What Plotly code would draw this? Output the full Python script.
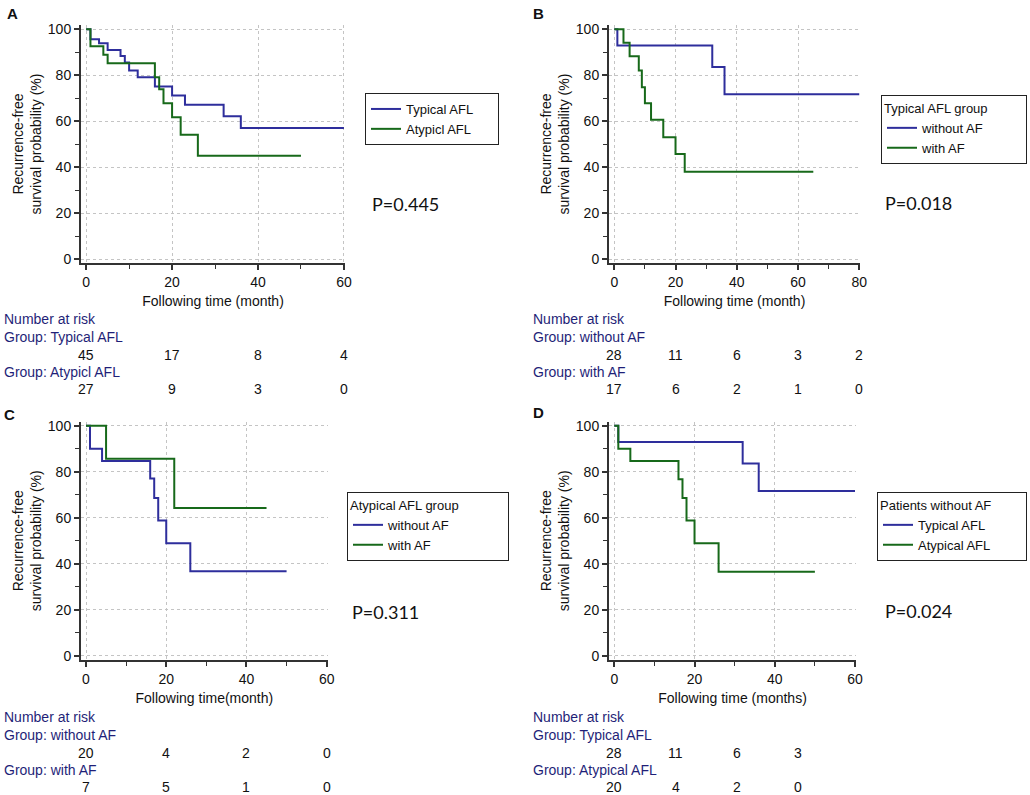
import plotly.graph_objects as go

W, H = 1030, 795

# ---------------- data ----------------
# Panel A
a_typ_t = [0, 1, 3, 5, 8, 9, 10, 12, 16, 20, 23, 32, 36, 60]
a_typ_s = [100, 95.6, 93.9, 91.0, 88.4, 85.5, 82.0, 79.1, 75.1, 71.2, 67.1, 62.2, 57.0, 57.0]
a_aty_t = [0, 1, 4, 5, 16, 17, 18, 20, 22, 26, 50]
a_aty_s = [100, 92.6, 88.9, 85.2, 79.1, 73.9, 67.8, 61.7, 54.1, 45.0, 45.0]
# Panel B
b_wo_t = [0, 1, 32, 36, 80]
b_wo_s = [100, 92.9, 83.6, 71.7, 71.7]
b_w_t = [0, 3, 5, 8, 9, 10, 12, 16, 20, 23, 65]
b_w_s = [100, 94.1, 88.2, 82.0, 74.8, 67.8, 60.6, 53.0, 45.7, 38.0, 38.0]
# Panel C
c_wo_t = [0, 1, 4, 16, 17, 18, 20, 26, 50]
c_wo_s = [100, 90.0, 84.7, 77.1, 68.6, 58.9, 49.0, 36.8, 36.8]
c_w_t = [0, 5, 22, 45]
c_w_s = [100, 85.7, 64.3, 64.3]
# Panel D
d_typ_t = [0, 1, 32, 36, 60]
d_typ_s = [100, 92.9, 83.6, 71.7, 71.7]
d_aty_t = [0, 1, 4, 16, 17, 18, 20, 26, 50]
d_aty_s = [100, 90.0, 84.7, 76.8, 68.6, 58.9, 49.0, 36.6, 36.6]

# Number at risk
a_risk_t = [0, 20, 40, 60]
a_risk_typ = [45, 17, 8, 4]
a_risk_aty = [27, 9, 3, 0]
b_risk_t = [0, 20, 40, 60, 80]
b_risk_wo = [28, 11, 6, 3, 2]
b_risk_w = [17, 6, 2, 1, 0]
c_risk_t = [0, 20, 40, 60]
c_risk_wo = [20, 4, 2, 0]
c_risk_w = [7, 5, 1, 0]
d_risk_t = [0, 20, 40, 60]
d_risk_typ = [28, 11, 6, 3]
d_risk_aty = [20, 4, 2, 0]

p_values = ["P=0.445", "P=0.018", "P=0.311", "P=0.024"]

BLUE = "#2e2e9c"
GREEN = "#17691a"
NAVY = "#1f1f78"
FONT = "Liberation Sans, Arial, sans-serif"
FS = 14
LFS = 13
NB = "\u00a0"

fig = go.Figure()

def add(t, s, name, color, xa, ya, leg):
    fig.add_trace(go.Scatter(x=t, y=s, mode="lines", line=dict(color=color, width=2, shape="hv"),
                             name=name, xaxis=xa, yaxis=ya, legend=leg, showlegend=True))

add(a_typ_t, a_typ_s, "Typical AFL", BLUE, "x", "y", "legend")
add(a_aty_t, a_aty_s, "Atypicl AFL" + NB * 6, GREEN, "x", "y", "legend")
add(b_wo_t, b_wo_s, "without AF", BLUE, "x2", "y2", "legend2")
add(b_w_t, b_w_s, "with AF", GREEN, "x2", "y2", "legend2")
add(c_wo_t, c_wo_s, "without AF", BLUE, "x3", "y3", "legend3")
add(c_w_t, c_w_s, "with AF", GREEN, "x3", "y3", "legend3")
add(d_typ_t, d_typ_s, "Typical AFL", BLUE, "x4", "y4", "legend4")
add(d_aty_t, d_aty_s, "Atypical AFL", GREEN, "x4", "y4", "legend4")

def px_x(p):
    return p / W

def px_y(p):
    return 1 - p / H

def axis_common(**kw):
    d = dict(showline=True, linecolor="#333333", linewidth=2,
             ticks="outside", ticklen=5, tickwidth=1.5, tickcolor="#333333",
             showgrid=True, gridcolor="#c4c4c4", griddash="dot", gridwidth=1,
             zeroline=False, tick0=0, dtick=20, automargin=False,
             tickfont=dict(family=FONT, size=FS, color="#111"),
             minor=dict(dtick=10, tick0=0, ticks="outside", ticklen=4, tickwidth=1.2,
                        tickcolor="#333333", showgrid=False),
             fixedrange=True)
    d.update(kw)
    return d

ytitle = dict(text="Recurrence-free<br>survival probability (%)",
              font=dict(family=FONT, size=FS, color="#111"), standoff=3)

def xtitle(t):
    return dict(text=t, font=dict(family=FONT, size=FS, color="#111"), standoff=7)

layout = dict(
    width=W, height=H, margin=dict(l=0, r=0, t=0, b=0, autoexpand=False),
    paper_bgcolor="white", plot_bgcolor="white",
    font=dict(family=FONT, size=FS, color="#111"),
    xaxis=axis_common(domain=[px_x(81), px_x(345)], range=[-1.2, 60.25], anchor="y",
                      title=xtitle("Following time (month)")),
    yaxis=axis_common(domain=[px_y(263), px_y(25)], range=[-1.7, 101.85], anchor="x",
                      title=ytitle),
    xaxis2=axis_common(domain=[px_x(609), px_x(860)], range=[-1.73, 80.25], anchor="y2",
                       title=xtitle("Following time (month)")),
    yaxis2=axis_common(domain=[px_y(263), px_y(25)], range=[-1.7, 101.85], anchor="x2",
                       title=ytitle),
    xaxis3=axis_common(domain=[px_x(81), px_x(327.7)], range=[-1.25, 60.25], anchor="y3",
                       title=xtitle("Following time(month)")),
    yaxis3=axis_common(domain=[px_y(660), px_y(421.5)], range=[-1.74, 101.85], anchor="x3",
                       title=ytitle),
    xaxis4=axis_common(domain=[px_x(609), px_x(856)], range=[-1.32, 60.25], anchor="y4",
                       title=xtitle("Following time (months)")),
    yaxis4=axis_common(domain=[px_y(660), px_y(421.5)], range=[-1.74, 101.85], anchor="x4",
                       title=ytitle),
)

def legend_box(x, y, title=None):
    d = dict(x=px_x(x), y=px_y(y), xanchor="left", yanchor="top",
             bordercolor="#222", borderwidth=1, bgcolor="white",
             font=dict(family=FONT, size=LFS, color="#111"),
             itemwidth=30, tracegroupgap=0)
    if title:
        d["title"] = dict(text=title, font=dict(family=FONT, size=LFS, color="#111"))
    return d

layout["legend"] = legend_box(365, 93)
layout["legend2"] = legend_box(881, 95, "Typical AFL group" + NB * 10)
layout["legend3"] = legend_box(347, 492, "Atypical AFL group" + NB * 13)
layout["legend4"] = legend_box(877, 492, "Patients without AF" + NB * 9)

fig.update_layout(**layout)

ann = []
# panel letters
for letter, x, y in [("A", 12, 14), ("B", 538, 14), ("C", 9, 414), ("D", 538, 412)]:
    ann.append(dict(text="<b>%s</b>" % letter, x=px_x(x), y=px_y(y), xref="paper", yref="paper",
                    showarrow=False, xanchor="center", yanchor="middle",
                    font=dict(family=FONT, size=15, color="#111")))
# p values
for txt, x, y in zip(p_values, [370, 883, 350, 883], [204, 203, 612, 611]):
    ann.append(dict(text=txt, x=px_x(x), y=px_y(y), xref="paper", yref="paper",
                    showarrow=False, xanchor="left", yanchor="middle",
                    font=dict(family="Lato, Open Sans, sans-serif", size=18, color="#111")))

def risk_table(left, top, g1, g2, xref, times, n1, n2):
    rows = [("Number at risk", top), ("Group: " + g1, top + 18), ("Group: " + g2, top + 53)]
    for txt, y in rows:
        ann.append(dict(text=txt, x=px_x(left), y=px_y(y), xref="paper", yref="paper",
                        showarrow=False, xanchor="left", yanchor="middle",
                        font=dict(family=FONT, size=FS, color=NAVY)))
    for vals, y in [(n1, top + 36), (n2, top + 70)]:
        for t, v in zip(times, vals):
            ann.append(dict(text=str(v), x=t, y=px_y(y), xref=xref, yref="paper",
                            showarrow=False, xanchor="center", yanchor="middle",
                            font=dict(family=FONT, size=FS, color="#111")))

risk_table(2, 319, "Typical AFL", "Atypicl AFL", "x", a_risk_t, a_risk_typ, a_risk_aty)
risk_table(531, 319, "without AF", "with AF", "x2", b_risk_t, b_risk_wo, b_risk_w)
risk_table(2, 717, "without AF", "with AF", "x3", c_risk_t, c_risk_wo, c_risk_w)
risk_table(531, 717, "Typical AFL", "Atypical AFL", "x2", d_risk_t, d_risk_typ, d_risk_aty)

fig.update_layout(annotations=ann)
fig.write_html(
    "out.html",
    config={"displayModeBar": False},
    post_script=(
        "document.documentElement.style.margin='0';"
        "document.body.style.margin='0';document.body.style.padding='0';"
        "document.documentElement.style.overflow='hidden';"
        "var gd=document.getElementById('{plot_id}');"
        "gd.style.position='fixed';gd.style.left='0px';gd.style.top='0px';"
    ),
)
